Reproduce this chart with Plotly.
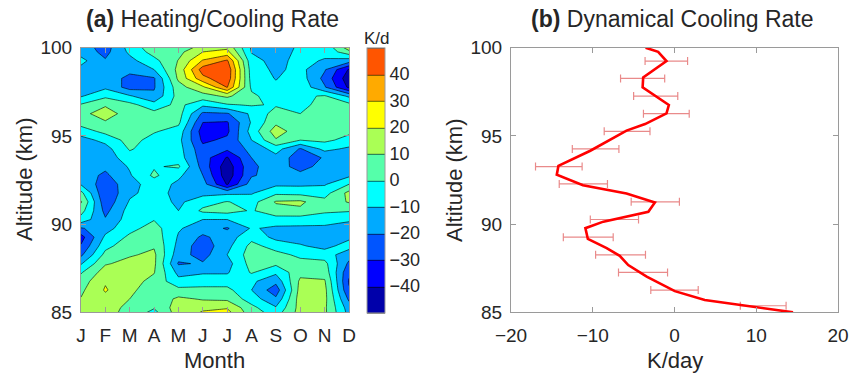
import plotly.graph_objects as go

# ---------------- data: panel (a) ----------------
month_labels = ["J", "F", "M", "A", "M", "J", "J", "A", "S", "O", "N", "D"]
month_pos = [1, 2, 3, 4, 5, 6, 7, 8, 9, 10, 11, 12]
altitudes = [100.26, 99.76, 99.26, 98.76, 98.26, 97.76, 97.26, 96.76,
             96.26, 95.76, 95.26, 94.76, 94.26, 93.76, 93.26, 92.76,
             92.26, 91.76, 91.26, 90.76, 90.26, 89.76, 89.26, 88.76,
             88.26, 87.76, 87.26, 86.76, 86.26, 85.76, 85.26, 84.76]

# heating/cooling rate (K/d) per month, top (100.26 km) to bottom (84.76 km)
jan = [-15, -14, -7, -13, -15, -15, -11, 1, 5, 4, -5, -14, -16, -17, -17, -15,
       -11, 3, 11, 4, -4, -21, -34, -29, -22, -11, -1, 5, 8, 10.5, 14, 14]
feb = [-27, -23, -19, -15, -14, -12, -2, 8, 18, 8, 3, -7, -14, -16, -18, -22,
       -26, -29, -27, -23, -19, -14, -8, -3, 3, 9, 15, 19, 21, 17, 15, 14]
mar = [-3, -8, -13, -17, -23, -24, -9, 3, 2, 4, 5, 4, 1, -4, -9, -11,
       -14, -12, -9, -6, -5, -3, 2, 6, 9, 13, 15, 14, 12, 10, 7, 5]
apr = [6, 4, -3, -10, -21, -21, -18, -6, 3, 5, 1, -4, -5, -4, -1, 2,
       -5, -6, -5, -3, -0.5, 4, 6, 9, 12, 12, 10.5, 7, 5, 3, 1, -8]
may = [4, 7, 10.5, 13, 12, 6, 4, 3, 4, 2, -4, -7, -6, -5, 1.5, -8,
       -12, -13, -12, -10, -6, -9, -11, -13, -16, -21, -13, -7, 3, 12, 15, 15]
jun = [10, 20, 31, 45, 37, 18, 6, -8, -22, -30, -35, -32, -27, -25, -24, -20,
       -16, -13, -4, 2, -10, -15, -22, -26, -24, -19, -11, -5, 3, 9, 17, 25]
jul = [13, 23, 41.5, 48, 47, 40.5, 12, -1, -21, -31, -32, -28, -28, -41, -46, -46,
       -41, -12, 0.5, 4, -10, -21, -15, -13, -10, -14, -11, -5, 3, 8, 19, 28]
aug = [-12, -10.5, -7, -5, -4, -2, 2, 1, -8, -9, -6, -10, -17, -20, -22, -21,
       -15, -11, -4, -1, -6, -9, -3, 3, 5, 4, 1, -8, -10, -5, 3, 6]
sep = [-15, -14, -13, -12, -10.5, -8, -5, -1, 4, 8, 15, 9, -6, -13, -15, -16,
       -12, -2, 11, 6, -4, -12, -13, -4, 3, 2, -8, -17, -26, -18, -9, -2]
octo = [-9, -8, -7, -7, -5, -3, -2, -3, 0, 5, 4, 0, -21, -26, -24, -17,
        -12, -3, 12, 8, -5, -12, -14, -9, -2, 3, 7, 12, 14, 15, 14, 14]
nov = [-5, -7, -11, -19, -23, -19, 1, 4, 5, 6, 6, 2, -7, -19, -16, -14,
       -11, -4, 3, 2, -6, -12, -15, -13, -5, 3, 6, 11, 13, 13, 12, 12]
dec = [30, 6, -15, -41, -46, -42, -12, 3, 5, 4, 2, -3, -12, -14, -13, -12,
       0, 13, 11, 1, -9, -13, -12, -6, -16, -22, -28, -31, -29, -22, -15, -12]

cbar_ticks = [-40, -30, -20, -10, 0, 10, 20, 30, 40]

# ---------------- data: panel (b) ----------------
profile_alt = [100, 99.77, 99.24, 98.32, 97.75, 96.75, 96.28, 95.67, 95.3, 94.16,
               93.3, 92.8, 92.2, 91.74, 91.23, 90.7, 90.14, 89.77, 89.16, 88.64,
               88.2, 87.68, 87.02, 86.2, 85.7, 85.4, 85]
profile_rate = [-3.54, -2.0, -0.98, -3.83, -3.9, -0.69, -0.98, -3.6, -5.87, -10.3,
                -14.2, -14.4, -11.2, -5.87, -2.4, -3.2, -8.7, -10.9, -10.6, -8.3,
                -6.7, -5.66, -3.4, 0.04, 3.7, 8.4, 14.5]
err_alt = [99.24, 98.26, 97.26, 96.26, 95.26, 94.26, 93.26, 92.28, 91.26, 90.26,
           89.26, 88.26, 87.26, 86.26, 85.37]
err_center = [-1.0, -3.9, -2.3, -1.0, -5.8, -9.65, -14.15, -11.15, -2.35, -7.35,
              -10.55, -6.6, -3.85, 0.0, 10.85]
err_half = [2.6, 2.7, 2.7, 2.8, 2.8, 2.85, 2.85, 2.95, 2.95, 2.95,
            3.05, 3.05, 3.0, 2.9, 2.8]

# ---------------- build ----------------
months_cols = [jan, feb, mar, apr, may, jun, jul, aug, sep, octo, nov, dec]
rate_grid = [list(row) for row in zip(*months_cols)]

jet10 = ["#0000AA", "#0000FF", "#0055FF", "#00AAFF", "#00FFFF",
         "#55FFAA", "#AAFF55", "#FFFF00", "#FFAA00", "#FF5500"]
cscale = []
for i, c in enumerate(jet10):
    cscale.append([i / 10, c])
    cscale.append([(i + 1) / 10, c])

W, H = 858, 377
L1, R1 = 81, 349
L2, R2 = 511, 838
TOP, BOT = 47.7, 312.3

def px(x):
    return x / W

def py(y):
    return 1 - y / H

FONT = "Liberation Sans, Arial, sans-serif"
TXT = "#262626"
AX = "#9a9a9a"

fig = go.Figure()

fig.add_trace(go.Contour(
    x=month_pos, y=altitudes, z=rate_grid,
    zmin=-50, zmax=50, autocontour=False,
    contours=dict(start=-50, end=50, size=10, coloring="fill", showlines=True),
    line=dict(color="black", width=0.6, smoothing=0),
    colorscale=cscale,
    colorbar=dict(
        x=px(367), xanchor="left", xref="paper",
        y=py((TOP + BOT) / 2), yanchor="middle",
        len=(BOT - TOP) / H, lenmode="fraction",
        thickness=18, thicknessmode="pixels",
        xpad=0, ypad=0,
        outlinewidth=1, outlinecolor=AX,
        tickvals=cbar_ticks, ticks="",
        tickfont=dict(family=FONT, size=18, color=TXT),
    ),
    hoverinfo="skip",
    xaxis="x", yaxis="y",
))

fig.add_trace(go.Scatter(
    x=err_center, y=err_alt, mode="markers",
    marker=dict(size=1, color="rgba(0,0,0,0)"),
    error_x=dict(type="data", array=err_half, symmetric=True,
                 color="#E98A8A", thickness=1.2, width=4),
    showlegend=False, hoverinfo="skip",
    xaxis="x2", yaxis="y2",
))
fig.add_trace(go.Scatter(
    x=profile_rate, y=profile_alt, mode="lines",
    line=dict(color="#FF0000", width=2.6),
    showlegend=False, xaxis="x2", yaxis="y2",
))

axis_common = dict(
    showline=True, mirror="ticks", linecolor=AX, linewidth=1,
    ticks="inside", ticklen=5, tickcolor=AX, tickwidth=1,
    showgrid=False, zeroline=False, automargin=False,
    tickfont=dict(family=FONT, size=19, color=TXT),
)

fig.update_layout(
    width=W, height=H,
    margin=dict(l=0, r=0, t=0, b=0, pad=0, autoexpand=False),
    paper_bgcolor="white", plot_bgcolor="white",
    showlegend=False,
    xaxis=dict(domain=[px(L1), px(R1)], range=[1, 12], tickvals=month_pos,
               ticktext=month_labels, anchor="y", ticklabelstandoff=6, **axis_common),
    yaxis=dict(domain=[py(BOT), py(TOP)], range=[85, 100], tickvals=[85, 90, 95, 100],
               anchor="x", ticklabelstandoff=4, **axis_common),
    xaxis2=dict(domain=[px(L2), px(R2)], range=[-20, 20], tickvals=[-20, -10, 0, 10, 20],
                anchor="y2", ticklabelstandoff=6, **axis_common),
    yaxis2=dict(domain=[py(BOT), py(TOP)], range=[85, 100], tickvals=[85, 90, 95, 100],
                anchor="x2", ticklabelstandoff=4, **axis_common),
)

ann = []
def add_text(text, x, y, size, angle=0):
    ann.append(dict(text=text, x=px(x), y=py(y), xref="paper", yref="paper",
                    xanchor="center", yanchor="middle", showarrow=False, textangle=angle,
                    font=dict(family=FONT, size=size, color=TXT)))

add_text("<b>(a)</b> Heating/Cooling Rate", 212, 19, 23)
add_text("<b>(b)</b> Dynamical Cooling Rate", 672, 19, 23)
add_text("Month", 214, 360, 22)
add_text("K/day", 675, 360, 22)
add_text("Altitude (km)", 24, 180, 22, -90)
add_text("Altitude (km)", 454, 180, 22, -90)
add_text("K/d", 377, 38, 17)
fig.update_layout(annotations=ann)

fig.write_html("out.html")
